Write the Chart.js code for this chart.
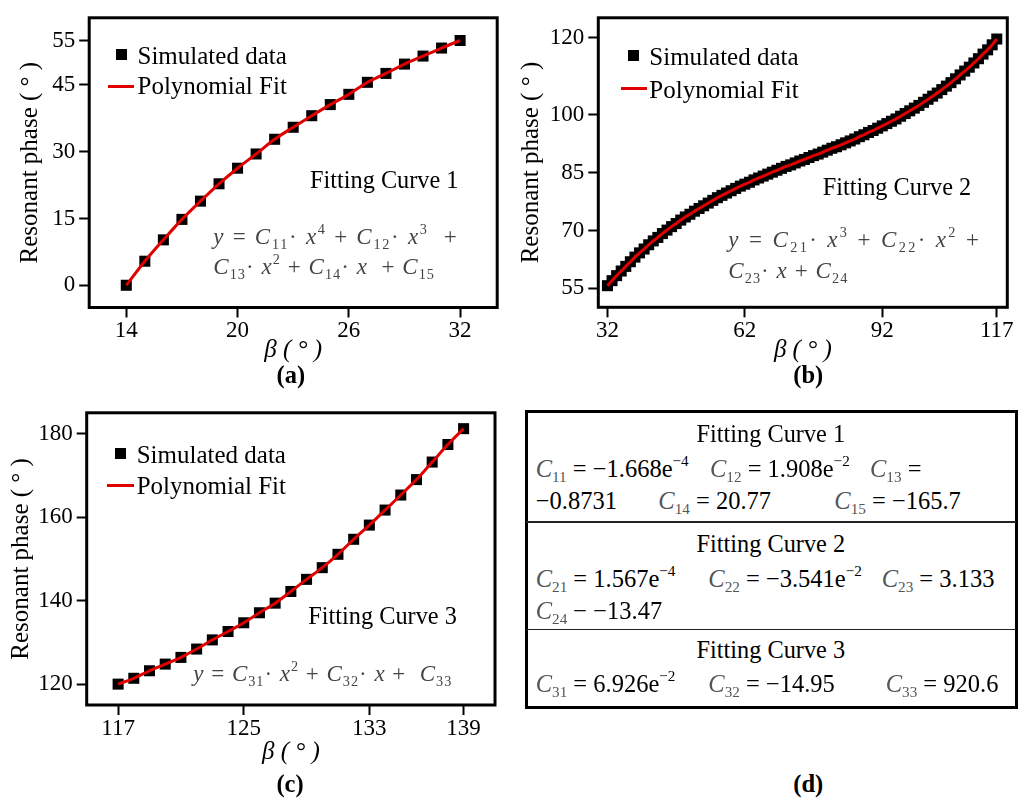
<!DOCTYPE html>
<html>
<head>
<meta charset="utf-8">
<script src="https://cdn.jsdelivr.net/npm/chart.js@4.4.0/dist/chart.umd.min.js"></script>
<style>
  body { margin: 0; background: #fff; width: 1018px; height: 798px; position: relative; overflow: hidden;
         font-family: "Liberation Serif", "Times New Roman", serif; }
  canvas { position: absolute; }
  .t { position: absolute; white-space: nowrap; line-height: 1; color: #000; }
  .t sub, .t sup { font-size: 0.62em; line-height: 0; vertical-align: baseline; position: relative; }
  .t sub { top: 0.35em; }
  .t sup { top: -0.7em; }
  .bl { display: inline-block; width: 0; height: 0; vertical-align: baseline; }
  .eq { color: #444; }
  .cg { color: #555; }
  .mk { position: absolute; background: #000; }
  .ln { position: absolute; background: #e00000; height: 3px; }
  #tbl { position: absolute; left: 524.5px; top: 410.2px; width: 493.7px; height: 298.6px;
         border: 3px solid #000; box-sizing: border-box; }
  .dv { position: absolute; left: 526px; width: 490px; height: 1.5px; background: #222; }
</style>
</head>
<body>
<canvas id="chartA" width="509" height="395" style="left:0;top:0"></canvas>
<canvas id="chartB" width="509" height="395" style="left:509px;top:0"></canvas>
<canvas id="chartC" width="509" height="403" style="left:0;top:395px"></canvas>
<div id="tbl"></div>
<div class="dv" style="top:521.3px"></div>
<div class="dv" style="top:628.6px"></div>
<script>
// ---- data (a) ----
const betaA = [14, 15, 16, 17, 18, 19, 20, 21, 22, 23, 24, 25, 26, 27, 28, 29, 30, 31, 32];
const phaseA = [0, 5.4, 10.2, 14.8, 18.9, 22.8, 26.3, 29.5, 32.8, 35.5, 38.1, 40.6, 42.9, 45.6, 47.6, 49.7, 51.5, 53.3, 55];
const xTicksA = [14, 20, 26, 32];
const yTicksA = [0, 15, 30, 45, 55];

// ---- data (b) ----
const betaB = [32, 33, 34, 35, 36, 37, 38, 39, 40, 41, 42, 43, 44, 45, 46, 47, 48, 49, 50, 51,
  52, 53, 54, 55, 56, 57, 58, 59, 60, 61, 62, 63, 64, 65, 66, 67, 68, 69, 70, 71,
  72, 73, 74, 75, 76, 77, 78, 79, 80, 81, 82, 83, 84, 85, 86, 87, 88, 89, 90, 91,
  92, 93, 94, 95, 96, 97, 98, 99, 100, 101, 102, 103, 104, 105, 106, 107, 108, 109, 110, 111,
  112, 113, 114, 115, 116, 117];
const phaseB = [55.7, 57.0, 58.3, 59.5, 60.7, 61.9, 63.1, 64.2, 65.2, 66.3, 67.3, 68.2, 69.2, 70.1, 71.0, 71.8, 72.7, 73.5, 74.2, 75.0,
  75.7, 76.4, 77.1, 77.8, 78.5, 79.1, 79.7, 80.3, 80.9, 81.5, 82.0, 82.5, 83.1, 83.6, 84.1, 84.6, 85.1, 85.6, 86.1, 86.6,
  87.0, 87.5, 88.0, 88.4, 88.9, 89.4, 89.8, 90.3, 90.8, 91.3, 91.7, 92.2, 92.7, 93.2, 93.7, 94.3, 94.8, 95.4, 95.9, 96.5,
  97.1, 97.7, 98.3, 98.9, 99.6, 100.3, 101.0, 101.7, 102.4, 103.2, 104.0, 104.8, 105.6, 106.5, 107.4, 108.3, 109.3, 110.3, 111.3, 112.3,
  113.4, 114.5, 115.7, 116.8, 118.1, 119.6];
const xTicksB = [32, 62, 92, 117];
const yTicksB = [55, 70, 85, 100, 120];

// ---- data (c) ----
const betaC = [117, 118, 119, 120, 121, 122, 123, 124, 125, 126, 127, 128, 129, 130, 131, 132, 133, 134, 135, 136, 137, 138, 139];
const phaseC = [120, 121.4, 123.2, 124.8, 126.4, 128.4, 130.6, 132.6, 134.7, 137.1, 139.4, 142.2, 145.1, 147.9, 151.1, 154.7, 158.1, 161.7, 165.3, 169.0, 173.2, 177.4, 181.2];
const xTicksC = [117, 125, 133, 139];
const yTicksC = [120, 140, 160, 180];

const seriesNames = ['Simulated data', 'Polynomial Fit'];
const FONT = '"Liberation Serif", "Times New Roman", serif';
const RED = '#e00000';

// box round the plot area
const frame = {
  id: 'frame',
  afterDraw(chart) {
    const { ctx, chartArea: a } = chart;
    ctx.save();
    ctx.strokeStyle = '#000';
    ctx.lineWidth = 3;
    ctx.strokeRect(a.left, a.top, a.right - a.left, a.bottom - a.top);
    ctx.restore();
  }
};

function makeChart(id, o) {
  const pts = o.xs.map((x, i) => ({ x: x, y: o.ys[i] }));
  return new Chart(document.getElementById(id), {
    type: 'scatter',
    data: {
      datasets: [
        { label: seriesNames[1], data: pts, showLine: true, borderColor: RED, borderWidth: 3,
          pointRadius: 0, cubicInterpolationMode: 'monotone', order: 0 },
        { label: seriesNames[0], data: pts, showLine: false, pointStyle: 'rect', pointRadius: 7.8,
          backgroundColor: '#000', borderColor: '#000', borderWidth: 0, order: 1 }
      ]
    },
    options: {
      responsive: false,
      animation: false,
      devicePixelRatio: 1,
      clip: false,
      layout: { padding: { top: o.padTop, right: o.padRight, left: 0, bottom: 0 } },
      plugins: { legend: { display: false }, tooltip: { enabled: false } },
      scales: {
        x: {
          type: 'linear', min: o.xMin, max: o.xMax,
          afterBuildTicks: s => { s.ticks = o.xTicks.map(v => ({ value: v })); },
          afterFit: s => { s.height = o.xH; },
          ticks: { font: { family: FONT, size: 23 }, color: '#000', padding: 0, maxRotation: 0, autoSkip: false,
                   callback: v => String(v) },
          grid: { drawOnChartArea: false, drawTicks: true, tickLength: 10, tickWidth: 2, tickColor: '#000' },
          border: { display: false },
          title: { display: true, text: 'β ( ° )', color: '#000',
                   font: { family: FONT, size: 25, style: 'italic' }, padding: { top: 0, bottom: o.xTitlePad } }
        },
        y: {
          type: 'linear', min: o.yMin, max: o.yMax,
          afterBuildTicks: s => { s.ticks = o.yTicks.map(v => ({ value: v })); },
          afterFit: s => { s.width = o.yW; },
          ticks: { font: { family: FONT, size: 23 }, color: '#000', padding: 4, autoSkip: false,
                   callback: v => String(v) },
          grid: { drawOnChartArea: false, drawTicks: true, tickLength: 10, tickWidth: 2, tickColor: '#000' },
          border: { display: false },
          title: { display: true, text: 'Resonant phase ( ° )', color: '#000',
                   font: { family: FONT, size: 25 }, padding: { top: o.yTitlePad, bottom: 0 } }
        }
      }
    },
    plugins: [frame]
  });
}

makeChart('chartA', { xs: betaA, ys: phaseA, xTicks: xTicksA, yTicks: yTicksA,
  xMin: 12, xMax: 34, yMin: -5, yMax: 60.1, padTop: 14.7, padRight: 11.8, yW: 89.2, xH: 87.5,
  xTitlePad: 30, yTitlePad: 15.5 });
makeChart('chartB', { xs: betaB, ys: phaseB, xTicks: xTicksB, yTicks: yTicksB,
  xMin: 30, xMax: 119.3, yMin: 50.1, yMax: 125.1, padTop: 14.3, padRight: 10.7, yW: 89.3, xH: 87.7,
  xTitlePad: 30, yTitlePad: 7.3 });
makeChart('chartC', { xs: betaC, ys: phaseC, xTicks: xTicksC, yTicks: yTicksC,
  xMin: 115, xMax: 141, yMin: 115, yMax: 185, padTop: 17.3, padRight: 14, yW: 86.7, xH: 93,
  xTitlePad: 30.5, yTitlePad: 6.3 });

// ---- text placed by baseline ----
function put(html, x, base, size, opt) {
  opt = opt || {};
  const d = document.createElement('div');
  d.className = 't' + (opt.cls ? ' ' + opt.cls : '');
  d.style.fontSize = size + 'px';
  d.innerHTML = html + '<span class="bl"></span>';
  d.style.left = x + 'px';
  d.style.top = '0px';
  document.body.appendChild(d);
  if (opt.w) {
    const w0 = d.getBoundingClientRect().width;
    const n = d.textContent.length;
    d.style.letterSpacing = ((opt.w - w0) / n) + 'px';
  }
  const b = d.querySelector('.bl').getBoundingClientRect().bottom - d.getBoundingClientRect().top;
  d.style.top = (base - b) + 'px';
  if (opt.center) d.style.left = (x - d.getBoundingClientRect().width / 2) + 'px';
  return d;
}

function legend(o) {
  const m = document.createElement('div');
  m.className = 'mk';
  m.style.cssText = `left:${o.mx - 5.5}px;top:${o.my - 5.5}px;width:11px;height:11px`;
  document.body.appendChild(m);
  const l = document.createElement('div');
  l.className = 'ln';
  l.style.cssText = `left:${o.lx1}px;top:${o.ly - 1.5}px;width:${o.lx2 - o.lx1}px`;
  document.body.appendChild(l);
  put(seriesNames[0], o.tx, o.b1, 25);
  put(seriesNames[1], o.tx, o.b2, 25);
}

legend({ mx: 121, my: 54.5, tx: 137.5, b1: 64, lx1: 108.3, lx2: 134, ly: 86.7, b2: 93.5 });
legend({ mx: 633.3, my: 55.8, tx: 649.3, b1: 65, lx1: 620.7, lx2: 647, ly: 88.3, b2: 97.7 });
legend({ mx: 120, my: 453.7, tx: 136.7, b1: 462.7, lx1: 107.3, lx2: 134, ly: 485.7, b2: 494.3 });

const Ci = n => `<i>C</i><sub>${n}</sub>`;
const X = p => `<i>x</i>` + (p ? `<sup>${p}</sup>` : '');

// annotations inside the plots
put('Fitting Curve 1', 310, 188.3, 24.3);
put(`<i>y</i> = ${Ci(11)}· ${X(4)} + ${Ci(12)}· ${X(3)} &nbsp;+`, 213.3, 244, 23, { cls: 'eq', w: 245 });
put(`${Ci(13)}· ${X(2)} + ${Ci(14)}· ${X()} &nbsp;+ ${Ci(15)}`, 213.3, 274, 23, { cls: 'eq', w: 221.7 });
put('Fitting Curve 2', 822.7, 195, 24.3);
put(`<i>y</i> = ${Ci(21)}· ${X(3)} + ${Ci(22)}· ${X(2)} +`, 728.3, 246.7, 23, { cls: 'eq', w: 253 });
put(`${Ci(23)}· ${X()} + ${Ci(24)}`, 728.3, 278.3, 23, { cls: 'eq', w: 120 });
put('Fitting Curve 3', 308.3, 623.7, 24.3);
put(`<i>y</i> = ${Ci(31)}· ${X(2)} + ${Ci(32)}· ${X()} + &nbsp;${Ci(33)}`, 193.3, 681, 23, { cls: 'eq', w: 259 });

// panel labels
put('<b>(a)</b>', 290.8, 383, 24.5, { center: true });
put('<b>(b)</b>', 808.3, 383, 24.5, { center: true });
put('<b>(c)</b>', 290, 792, 24.5, { center: true });
put('<b>(d)</b>', 808.3, 792, 24.5, { center: true });

// panel (d) coefficient table
const Cg = n => `<span class="cg"><i>C</i><sub>${n}</sub></span>`;
const fs = 24.5;
put('Fitting Curve 1', 770.8, 442, 24.3, { center: true });
put(`${Cg(11)} = −1.668e<sup>−4</sup>`, 535.7, 476.5, fs);
put(`${Cg(12)} = 1.908e<sup>−2</sup>`, 710, 476.5, fs);
put(`${Cg(13)} =`, 870, 476.5, fs);
put('−0.8731', 535.7, 509, fs);
put(`${Cg(14)} = 20.77`, 658.3, 509, fs);
put(`${Cg(15)} = −165.7`, 834.3, 509, fs);
put('Fitting Curve 2', 770.8, 551.7, 24.3, { center: true });
put(`${Cg(21)} = 1.567e<sup>−4</sup>`, 535.7, 586.5, fs);
put(`${Cg(22)} = −3.541e<sup>−2</sup>`, 708.3, 586.5, fs);
put(`${Cg(23)} = 3.133`, 881.7, 586.5, fs);
put(`${Cg(24)} − −13.47`, 535.7, 619, fs);
put('Fitting Curve 3', 770.8, 658.3, 24.3, { center: true });
put(`${Cg(31)} = 6.926e<sup>−2</sup>`, 535.7, 691.5, fs);
put(`${Cg(32)} = −14.95`, 708.3, 691.5, fs);
put(`${Cg(33)} = 920.6`, 885.7, 691.5, fs);
</script>
</body>
</html>
